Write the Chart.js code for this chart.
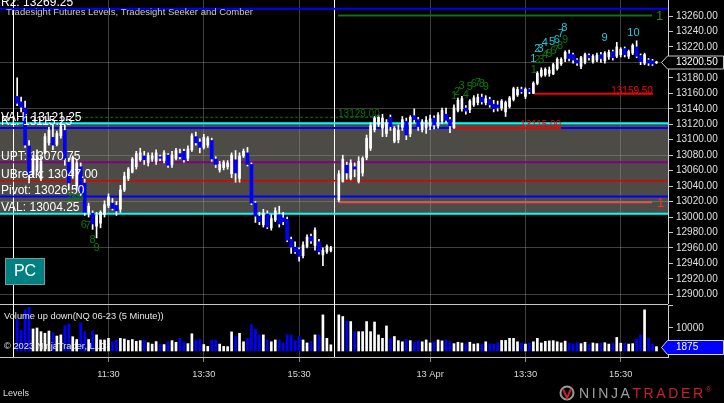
<!DOCTYPE html>
<html>
<head>
<meta charset="utf-8">
<script src="https://cdn.jsdelivr.net/npm/chart.js@4.4.0/dist/chart.umd.min.js"></script>
<style>
  html, body { margin: 0; padding: 0; background: #000; }
  #wrap { position: relative; width: 724px; height: 403px; overflow: hidden; background: #000; }
  #price { position: absolute; left: 0; top: 0; }
  #vol { position: absolute; left: 0; top: 304px; }
</style>
</head>
<body>
<div id="wrap">
  <canvas id="price" width="724" height="304"></canvas>
  <canvas id="vol" width="724" height="99"></canvas>
</div>
<script>
// ---------- data: NQ 06-23, 5 minute bars (12 Apr session, then 13 Apr session) ----------
const opens = [
  13156,13149,13141,13092,13055,13061,13050,13083,13096,13103,
  13094,13105,13112,13071,13055,13040,13065,13044,13006,13005,
  12988,12992,13003,13015,13018,13015,13010,13035,13050,13058,
  13065,13074,13079,13070,13075,13072,13078,13073,13080,13068,
  13076,13082,13085,13076,13087,13104,13097,13090,13093,13099,
  13075,13061,13064,13065,13056,13074,13050,13079,13083,13068,
  13018,13001,12990,13004,12986,12996,13003,12999,12997,12971,
  12961,12958,12950,12962,12975,12963,12968,12951,12955,12957,
  13022,13046,13067,13050,13065,13046,13057,13077,13089,13113,
  13120,13115,13108,13129,13098,13100,13116,13124,13108,13131,
  13126,13113,13115,13118,13128,13118,13124,13133,13126,13115,
  13138,13140,13141,13139,13145,13148,13155,13148,13152,13146,
  13145,13141,13136,13143,13152,13158,13165,13156,13165,13160,
  13173,13183,13184,13186,13185,13192,13198,13205,13211,13210,
  13203,13195,13200,13209,13201,13203,13210,13202,13207,13214,
  13208,13210,13218,13208,13212,13220,13209,13199,13203,13202,
  13199.5
];
const highs = [
  13180,13155,13150,13099,13080,13087,13078,13108,13116,13119,
  13111,13122,13119,13076,13079,13074,13070,13049,13018,13008,
  13006,13008,13021,13030,13024,13020,13041,13058,13064,13077,
  13085,13089,13085,13083,13083,13087,13080,13086,13082,13085,
  13089,13088,13088,13092,13108,13110,13101,13107,13104,13102,
  13078,13072,13073,13073,13083,13086,13083,13088,13090,13070,
  13020,13006,13010,13008,13003,13012,13014,13006,13000,12974,
  12968,12960,12968,12977,12978,12986,12971,12960,12964,12962,
  13060,13080,13071,13074,13070,13078,13078,13106,13122,13130,
  13132,13133,13126,13132,13117,13119,13130,13128,13131,13140,
  13129,13126,13130,13132,13131,13135,13141,13141,13129,13145,
  13154,13156,13144,13152,13157,13159,13159,13157,13155,13151,
  13150,13152,13150,13156,13168,13168,13168,13167,13166,13175,
  13188,13193,13193,13194,13199,13206,13206,13215,13216,13212,
  13205,13208,13212,13211,13210,13212,13213,13214,13216,13216,
  13226,13219,13220,13216,13224,13228,13211,13212,13205,13204,
  13201.5
];
const lows = [
  13144,13136,13090,13044,13052,13058,13047,13082,13093,13087,
  13092,13102,13067,13035,13050,13035,13028,13002,13000,12984,
  12973,12986,13000,13012,13009,13002,13006,13033,13047,13057,
  13062,13072,13068,13066,13072,13068,13073,13070,13064,13064,
  13074,13075,13071,13073,13085,13093,13083,13088,13090,13072,
  13064,13058,13061,13062,13051,13045,13045,13077,13066,13016,
  12993,12990,12987,12985,12983,12994,12987,12990,12968,12953,
  12953,12943,12947,12960,12966,12957,12952,12937,12953,12955,
  13020,13045,13049,13048,13052,13044,13053,13074,13086,13110,
  13117,13104,13104,13112,13096,13096,13112,13100,13104,13122,
  13112,13110,13108,13113,13114,13115,13121,13122,13109,13115,
  13136,13137,13133,13135,13143,13145,13146,13145,13142,13136,
  13137,13138,13130,13141,13150,13156,13160,13153,13159.5,13159.5,
  13171,13181,13182,13182,13184,13190,13196,13201,13202,13199,
  13196,13192,13198,13203,13199,13201,13200,13199,13204,13203,
  13206,13207,13207,13205,13210,13206,13197,13197,13196,13196,
  13198.5
];
const closes = [
  13147,13142,13093,13055,13076,13080,13072,13104,13112,13093,
  13108,13117,13074,13044,13077,13070,13031,13006,13014,12991,
  13002,13006,13016,13026,13011,13008,13035,13053,13062,13075,
  13082,13083,13074,13080,13079,13083,13076,13083,13067,13080,
  13086,13078,13074,13088,13105,13096,13090,13103,13102,13075,
  13068,13068,13071,13070,13080,13057,13079,13085,13068,13018,
  13001,12994,13005,12987,12998,13008,12991,12994,12970,12961,
  12955,12949,12964,12974,12969,12983,12955,12957,12962,12960,
  13056,13075,13057,13070,13062,13072,13076,13102,13118,13128,
  13129,13128,13122,13117,13115,13112,13126,13106,13129,13126,
  13117,13123,13125,13127,13119,13132,13138,13125,13118,13141,
  13151,13153,13137,13150,13154,13155,13149,13153,13145,13140,
  13141,13150,13148,13154,13166,13165,13162,13165,13162,13173,
  13186,13190,13191,13190,13197,13204,13204,13213,13205,13203,
  13199,13206,13210,13206,13208,13209,13205,13212,13213,13206,
  13220,13217,13210,13214,13222,13208,13201,13210,13199,13198,
  13200.5
];
const volumes = [
  13800,9000,17900,19000,9600,10000,8400,7700,8700,8000,
  6500,7000,11000,11800,6200,5000,12200,8400,5000,8700,
  7000,4800,4800,5500,4000,4800,5500,5200,4600,5000,
  4200,4500,4800,3600,3000,4100,3000,2800,4000,4500,
  3800,5500,4000,3200,7500,4800,5000,2800,2000,4800,
  4800,3000,2000,1900,8300,6300,7700,4000,5500,11500,
  9500,7000,7000,4800,4000,4800,4800,3500,7000,7000,
  4500,6300,4800,3500,4100,7000,7000,15700,5500,2700,
  15700,15000,13000,12800,8400,8400,8400,12800,8400,12600,
  7000,5500,10900,5500,6300,4500,4000,5000,4500,3800,
  4500,4000,4800,3500,4100,4800,4400,4800,4000,3200,
  3800,3500,3200,3800,3000,3200,3000,4000,3200,3000,
  3500,4600,4600,5500,5500,4000,3500,3000,3500,4000,
  5500,3500,4200,4400,4500,4000,3500,4300,3500,3000,
  3600,3200,3800,3000,3500,3200,3400,3600,3000,3500,
  5900,3400,3500,3000,3200,5200,7000,17900,5600,3000,
  1875
];
const day1Bars = 80;

// time axis (bar slots)
const timeTicks = [24, 48, 72, 105, 129, 153];
const timeLabels = ["11:30", "13:30", "15:30", "13 Apr", "13:30", "15:30"];
const sessionStarts = [0, 80.8];

// price axis
const priceTicks = [12900, 12920, 12940, 12960, 12980, 13000, 13020, 13040, 13060, 13080,
  13100, 13120, 13140, 13160, 13180, 13200, 13220, 13240, 13260];
const priceGrid = [12900, 12960, 13020, 13080, 13140, 13200];
const volTicks = [10000, 20000];

// Tradesight levels
const levelNames = ["R2", "VAH", "R1", "UPT", "UBreak", "Pivot", "VAL"];
const levelValues = [13269.25, 13121.25, 13115.25, 13070.75, 13047.00, 13026.50, 13004.25];
const levelColors = ["#0000ff", "#00ffff", "#0000ff", "#800080", "#e00000", "#0000ff", "#00ffff"];

// seeker / comber segments
const segValues = [13129.00, 13260.50, 13019.00, 13115.00, 13159.50];
const segFrom = [15.6, 81.8, 81.8, 110.8, 131.2];
const segTo = [91.9, 160.9, 160.9, 138.0, 161.1];
const segText = ["13129.00", "1", "1", "13115.00", "13159.50"];
const segColors = ["#0c6e0c", "#1b6b1b", "#e05454", "#ee0000", "#ee0000"];

// counts
const greenText = ["2","3","4","5","6","7","8","9", "1","2","3","4","5","6","7","8","9", "1","2","3","4","5","6","7","8","9"];
const greenSlot = [14,15,16,17,17.8,18.8,20,21, 111,111.8,112.9,114,115,116,117,118,119, 131.1,132,133,134,135,136,136.7,137.7,139];
const greenPrice = [13024,13024,13024,13024,12990,12989,12970,12960,
  13156.5,13162,13169.5,13158,13168,13171.5,13173,13172,13168.5,
  13190,13203,13203,13209.5,13211,13214.5,13216,13221,13229];
const cyanText = ["1","2","3","4","5","6","7","8","9","10"];
const cyanSlot = [131,132,132.8,133.9,135.7,136.9,137.9,138.8,148.9,156.2];
const cyanPrice = [13204.4,13217.3,13217.3,13224.7,13226.8,13229,13236.3,13244.1,13231.2,13237.6];

// ---------- helpers ----------
if (new Set([opens.length, highs.length, lows.length, closes.length, volumes.length]).size !== 1)
  throw new Error("series length mismatch");

Chart.defaults.font.family = "'Liberation Sans', Arial, sans-serif";
const xMin = -3.32, xMax = 164.9;
const priceMin = 12887.5, priceMax = 13280.7;
const volMin = -2609, volMax = 20000;
const gridCol = "rgba(150,150,150,0.42)";
const FONT = "'Liberation Sans', Arial, sans-serif";

const slots = opens.map((_, k) => (k < day1Bars ? k + 1 : k + 2));
const isUp = (k) => closes[k] >= opens[k];

function txt(ctx, s, x, y, size, color, align = "left", base = "alphabetic") {
  ctx.font = size + "px " + FONT;
  ctx.fillStyle = color;
  ctx.textAlign = align;
  ctx.textBaseline = base;
  ctx.fillText(s, x, y);
}

function sessionLines(chart) {
  const { ctx, chartArea: a, scales: { x } } = chart;
  ctx.save();
  ctx.strokeStyle = "#ffffff";
  ctx.lineWidth = 1;
  sessionStarts.forEach((s) => {
    const px = Math.round(x.getPixelForValue(s)) + 0.5;
    ctx.beginPath();
    ctx.moveTo(px, a.top - 1);
    ctx.lineTo(px, a.bottom);
    ctx.stroke();
  });
  ctx.restore();
}

const xTickHook = (s) => { s.ticks = timeTicks.map((v) => ({ value: v })); };
// no label padding: the plot must fill the panel exactly
const fitX = (h) => (s) => { s.height = h; s.paddingLeft = 0; s.paddingRight = 0; };
const fitY = (s) => { s.width = 56; s.paddingTop = 0; s.paddingBottom = 0; };

// ---------- price panel ----------
const priceDecor = {
  id: "priceDecor",
  beforeDraw(chart) {
    const { ctx, chartArea: a, scales: { y } } = chart;
    const top = y.getPixelForValue(levelValues[1]);
    const bot = y.getPixelForValue(levelValues[6]);
    ctx.save();
    ctx.fillStyle = "#4c4b45";
    ctx.fillRect(a.left, top, a.right - a.left, bot - top);
    ctx.restore();
  },
  beforeDatasetsDraw(chart) { sessionLines(chart); },
  afterDatasetsDraw(chart) {
    const { ctx, scales: { x, y } } = chart;
    ctx.save();
    // level labels
    levelNames.forEach((n, j) => {
      txt(ctx, n + ": " + levelValues[j].toFixed(2), 1, y.getPixelForValue(levelValues[j]) - 2.5, 12, "#ffffff");
    });
    txt(ctx, "Tradesight Futures Levels, Tradesight Seeker and Comber", 6, 15, 9.5, "#c8c8c8");
    // segment labels
    const sy = segValues.map((v) => y.getPixelForValue(v));
    txt(ctx, segText[0], x.getPixelForValue(segFrom[1]), sy[0] - 0.5, 10, segColors[0]);
    txt(ctx, segText[1], x.getPixelForValue(segTo[1]) + 4, sy[1] + 0.5, 13, "#1f8f1f", "left", "middle");
    txt(ctx, segText[2], x.getPixelForValue(segTo[2]) + 5, sy[2] + 1, 13, "#ff2a2a", "left", "middle");
    txt(ctx, segText[3], x.getPixelForValue(segTo[3]), sy[3], 10, "#ff0000", "right");
    txt(ctx, segText[4], x.getPixelForValue(segTo[4]), sy[4], 10, "#ff0000", "right");
    // counts
    greenText.forEach((t, j) => {
      txt(ctx, t, x.getPixelForValue(greenSlot[j]), y.getPixelForValue(greenPrice[j]), 11, "#0c7a0c", "center", "middle");
    });
    cyanText.forEach((t, j) => {
      txt(ctx, t, x.getPixelForValue(cyanSlot[j]), y.getPixelForValue(cyanPrice[j]), 11, "#1ccbe0", "center", "middle");
    });
    // PC box
    ctx.fillStyle = "#008080";
    ctx.fillRect(5, 258, 40, 27);
    ctx.strokeStyle = "#6f9c9c";
    ctx.lineWidth = 1;
    ctx.strokeRect(5.5, 258.5, 39, 26);
    txt(ctx, "PC", 25, 272, 16, "#ffffff", "center", "middle");
    ctx.restore();
  },
  afterDraw(chart) {
    const { ctx, chartArea: a, scales: { y } } = chart;
    const last = closes[closes.length - 1];
    const py = Math.round(y.getPixelForValue(last)) + 0.5;
    const x0 = a.right - 0.5;
    ctx.save();
    ctx.beginPath();
    ctx.moveTo(x0 - 6, py);
    ctx.lineTo(x0, py - 6.5);
    ctx.lineTo(723.5, py - 6.5);
    ctx.lineTo(723.5, py + 6.5);
    ctx.lineTo(x0, py + 6.5);
    ctx.closePath();
    ctx.fillStyle = "#000000";
    ctx.fill();
    ctx.strokeStyle = "#c8c8c8";
    ctx.lineWidth = 1;
    ctx.stroke();
    txt(ctx, last.toFixed(2), 676, py, 10, "#ffffff", "left", "middle");
    ctx.restore();
  }
};

const levelSets = levelValues.map((v, j) => ({
  type: "line",
  data: [{ x: xMin, y: v }, { x: xMax, y: v }],
  borderColor: levelColors[j],
  borderWidth: j === 4 ? 1.5 : 2,
  pointRadius: 0,
  order: 5
}));
const segSets = segValues.map((v, j) => ({
  type: "line",
  data: [{ x: segFrom[j], y: v }, { x: segTo[j], y: v }],
  borderColor: segColors[j],
  borderWidth: j === 0 ? 1 : 2,
  borderDash: j === 0 ? [3, 2] : [],
  pointRadius: 0,
  order: 4
}));
const wickSet = {
  data: slots.map((s, k) => ({ x: s, y: [lows[k], highs[k]] })),
  backgroundColor: "#ffffff",
  barThickness: 1,
  grouped: false,
  order: 3
};
const upSet = {
  data: slots.map((s, k) => ({ x: s, y: [opens[k], closes[k]] })).filter((_, k) => isUp(k)),
  backgroundColor: "#ffffff",
  barThickness: 2,
  grouped: false,
  order: 2
};
const downSet = {
  data: slots.map((s, k) => ({ x: s, y: [closes[k], opens[k]] })).filter((_, k) => !isUp(k)),
  backgroundColor: "#0000ff",
  barThickness: 3,
  grouped: false,
  order: 1
};

new Chart(document.getElementById("price"), {
  type: "bar",
  data: { datasets: [...levelSets, ...segSets, wickSet, upSet, downSet] },
  options: {
    responsive: false,
    animation: false,
    events: [],
    layout: { padding: 0 },
    plugins: { legend: { display: false }, tooltip: { enabled: false } },
    scales: {
      x: {
        type: "linear", min: xMin, max: xMax, offset: false,
        afterBuildTicks: xTickHook,
        afterFit: fitX(0),
        ticks: { display: false },
        grid: { color: gridCol, drawTicks: false, offset: false },
        border: { display: false }
      },
      y: {
        position: "right", min: priceMin, max: priceMax,
        afterBuildTicks: (s) => { s.ticks = priceTicks.map((v) => ({ value: v })); },
        afterFit: fitY,
        ticks: {
          autoSkip: false, padding: 3, color: "#e0e0e0", font: { size: 10 },
          callback: (v) => (v === 13200 ? "" : v.toFixed(2))
        },
        grid: {
          color: (c) => (c.tick && priceGrid.includes(c.tick.value) ? gridCol : "rgba(0,0,0,0)"),
          tickColor: "#c8c8c8", tickLength: 5
        },
        border: { color: "#d0d0d0" }
      }
    }
  },
  plugins: [priceDecor]
});

// ---------- volume panel ----------
const volDecor = {
  id: "volDecor",
  beforeDatasetsDraw(chart) {
    const { ctx, chartArea: a } = chart;
    ctx.save();
    ctx.strokeStyle = "#c8c8c8";
    ctx.beginPath();
    ctx.moveTo(0, 0.5);
    ctx.lineTo(a.right, 0.5);
    ctx.stroke();
    ctx.restore();
    sessionLines(chart);
  },
  afterDatasetsDraw(chart) {
    const { ctx } = chart;
    txt(ctx, "Volume up down(NQ 06-23 (5 Minute))", 4, 12, 9.3, "#e6e6e6", "left", "middle");
    txt(ctx, "\u00a9 2023 NinjaTrader, LLC", 4, 42, 9.3, "#e6e6e6", "left", "middle");
  },
  afterDraw(chart) {
    const { ctx, chartArea: a, scales: { y } } = chart;
    const last = volumes[volumes.length - 1];
    const py = Math.round(y.getPixelForValue(last)) + 0.5;
    const x0 = a.right - 0.5;
    ctx.save();
    ctx.beginPath();
    ctx.moveTo(x0 - 6, py);
    ctx.lineTo(x0, py - 7);
    ctx.lineTo(723.5, py - 7);
    ctx.lineTo(723.5, py + 7);
    ctx.lineTo(x0, py + 7);
    ctx.closePath();
    ctx.fillStyle = "#0000ff";
    ctx.fill();
    ctx.strokeStyle = "#d0d0ff";
    ctx.stroke();
    txt(ctx, String(last), 676, py, 10, "#ffffff", "left", "middle");

    // footer
    txt(ctx, "Levels", 3, 90, 9, "#dcdcdc", "left", "middle");
    ctx.lineWidth = 2;
    ctx.strokeStyle = "#9a9a9a";
    ctx.beginPath();
    ctx.arc(567, 89, 6.5, 0, Math.PI * 2);
    ctx.stroke();
    ctx.strokeStyle = "#c8202a";
    ctx.beginPath();
    ctx.moveTo(563, 85);
    ctx.lineTo(567, 94);
    ctx.lineTo(571, 85);
    ctx.stroke();
    let cx = 579;
    const word = "NINJATRADER";
    ctx.font = "14px " + FONT;
    ctx.textBaseline = "middle";
    ctx.textAlign = "left";
    for (let i = 0; i < word.length; i++) {
      ctx.fillStyle = i < 5 ? "#a0a0a0" : "#c8202a";
      ctx.fillText(word[i], cx, 90);
      cx += ctx.measureText(word[i]).width + 2.6;
    }
    txt(ctx, "\u00ae", cx, 86, 8, "#c8202a", "left", "middle");
    ctx.restore();
  }
};

new Chart(document.getElementById("vol"), {
  type: "bar",
  data: {
    datasets: [{
      data: slots.map((s, k) => ({ x: s, y: volumes[k] })),
      backgroundColor: slots.map((_, k) => (isUp(k) ? "#ffffff" : "#0000ff")),
      barThickness: 2,
      grouped: false
    }]
  },
  options: {
    responsive: false,
    animation: false,
    events: [],
    layout: { padding: { top: 1 } },
    plugins: { legend: { display: false }, tooltip: { enabled: false } },
    scales: {
      x: {
        type: "linear", min: xMin, max: xMax, offset: false,
        afterBuildTicks: xTickHook,
        afterFit: fitX(46),
        ticks: {
          autoSkip: false, maxRotation: 0, padding: 7, color: "#d8d8d8", font: { size: 9.3 },
          callback: (v) => timeLabels[timeTicks.indexOf(v)] ?? ""
        },
        grid: { color: gridCol, tickColor: "#8a8a8a", tickLength: 5, offset: false },
        border: { color: "#c8c8c8" }
      },
      y: {
        position: "right", min: volMin, max: volMax,
        afterBuildTicks: (s) => { s.ticks = volTicks.map((v) => ({ value: v })); },
        afterFit: fitY,
        ticks: {
          autoSkip: false, padding: 3, color: "#e0e0e0", font: { size: 10 },
          callback: (v) => (v === 20000 ? "" : String(v))
        },
        grid: { drawOnChartArea: false, tickColor: "#c8c8c8", tickLength: 5 },
        border: { color: "#d0d0d0" }
      }
    }
  },
  plugins: [volDecor]
});
</script>
</body>
</html>
